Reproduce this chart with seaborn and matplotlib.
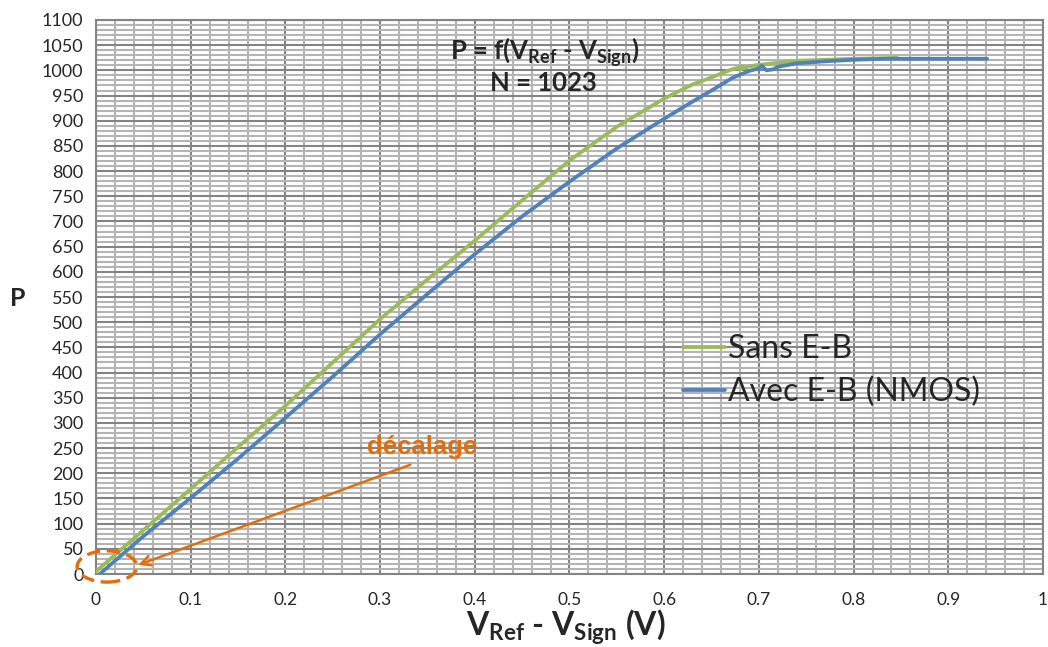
import numpy as np
import pandas as pd
import seaborn as sns
import matplotlib.pyplot as plt
from matplotlib.ticker import MultipleLocator, FuncFormatter
from matplotlib.patches import Ellipse

# Courbe sans E-B (verte)
sans_x = [0.0, 0.02, 0.05, 0.1, 0.15, 0.2, 0.25, 0.3, 0.35, 0.4, 0.45, 0.5, 0.55,
          0.6, 0.63, 0.65, 0.67, 0.683, 0.68, 0.69, 0.7, 0.72, 0.74, 0.77, 0.8, 0.83, 0.846]
sans_y = [5, 38, 87, 169, 252, 334, 420, 506, 585, 662, 742, 821, 888,
          944, 972, 986, 1001, 1008, 1002, 1008, 1011, 1015, 1019, 1021, 1023, 1024, 1025]

# Courbe avec E-B (NMOS) (bleue)
avec_x = [0.004, 0.05, 0.1, 0.15, 0.198, 0.25, 0.3, 0.35, 0.4, 0.45, 0.5, 0.55, 0.6,
          0.63, 0.65, 0.672, 0.69, 0.7, 0.703, 0.708, 0.715, 0.72, 0.74, 0.77, 0.8,
          0.83, 0.85, 0.941]
avec_y = [0, 75, 151, 229, 307, 392, 476, 556, 635, 710, 779, 845, 904,
          938, 960, 985, 999, 1004, 1009, 1000, 1002, 1007, 1014, 1018, 1021,
          1023, 1023, 1023]

labels = ["Sans E-B", "Avec E-B (NMOS)"]
green = "#9BBB59"
blue = "#4F81BD"
orange = "#E46C0A"

sns.set_style("white")
plt.rcParams["font.family"] = ["Lato", "DejaVu Sans"]
plt.rcParams["mathtext.fontset"] = "custom"
plt.rcParams["mathtext.rm"] = "Lato"
plt.rcParams["mathtext.bf"] = "Lato:bold"

fig = plt.figure(figsize=(10.48, 6.47), dpi=100)
ax = fig.add_axes([0.0916, 0.1128, 0.9036, 0.8563])

df_sans = pd.DataFrame({"x": sans_x, "y": sans_y})
df_avec = pd.DataFrame({"x": avec_x, "y": avec_y})
sns.lineplot(data=df_sans, x="x", y="y", sort=False, estimator=None,
             color=green, lw=2.7, label=labels[0], ax=ax, zorder=3)
sns.lineplot(data=df_avec, x="x", y="y", sort=False, estimator=None,
             color=blue, lw=2.7, label=labels[1], ax=ax, zorder=3)

ax.set_xlim(0, 1)
ax.set_ylim(0, 1100)
ax.xaxis.set_major_locator(MultipleLocator(0.1))
ax.xaxis.set_minor_locator(MultipleLocator(0.02))
ax.yaxis.set_major_locator(MultipleLocator(50))
ax.yaxis.set_minor_locator(MultipleLocator(10))
ax.xaxis.set_major_formatter(FuncFormatter(lambda v, p: f"{v:g}"))
ax.grid(which="minor", color="#b4b4b4", lw=1.5)
ax.grid(which="major", color="#848484", lw=1.5)
ax.set_axisbelow(True)
for s in ax.spines.values():
    s.set_color("#848484")
    s.set_linewidth(1.5)
ax.tick_params(which="both", length=0)
ax.tick_params(axis="y", labelsize=13, pad=9)
ax.tick_params(axis="x", labelsize=12.5, pad=13)
ax.set_xlabel("")
ax.set_ylabel("")

# titre dans le graphique
ax.text(0.474, 0.942, r"P = f(V$_{\mathbf{Ref}}$ - V$_{\mathbf{Sign}}$)",
        transform=ax.transAxes, ha="center", va="center", fontsize=18.5, fontweight="bold")
ax.text(0.472, 0.887, "N = 1023", transform=ax.transAxes, ha="center", va="center",
        fontsize=18.5, fontweight="bold")

# décalage
ax.add_patch(Ellipse((0.0116, 15), 0.063, 62, fill=False, ls=(0, (4, 2)),
                     edgecolor=orange, lw=2.4, clip_on=False, zorder=4))
ax.annotate("", xy=(0.0447, 18), xytext=(0.332, 217),
            arrowprops=dict(arrowstyle="->,head_length=0.7,head_width=0.35",
                            color=orange, lw=1.8, shrinkA=0, shrinkB=0))
ax.text(0.344, 253, "décalage", color=orange, fontsize=18.5, fontweight="bold",
        ha="center", va="center", family=["Liberation Sans", "DejaVu Sans"])

leg = ax.legend(loc="upper left", bbox_to_anchor=(683 / 1048, 1 - 334 / 647),
                bbox_transform=fig.transFigure, frameon=False, fontsize=23,
                handlelength=1.3, handletextpad=0.1, labelspacing=0.4,
                borderaxespad=0, borderpad=0)

fig.text(18 / 1048, 1 - 298 / 647, "P", fontsize=18, fontweight="bold",
         ha="center", va="center")
fig.text(566 / 1048, 1 - 627 / 647,
         r"$\mathbf{V_{Ref}}$ - $\mathbf{V_{Sign}}$ (V)", fontsize=23,
         fontweight="bold", ha="center", va="center")

fig.savefig("out.png", dpi=100)
